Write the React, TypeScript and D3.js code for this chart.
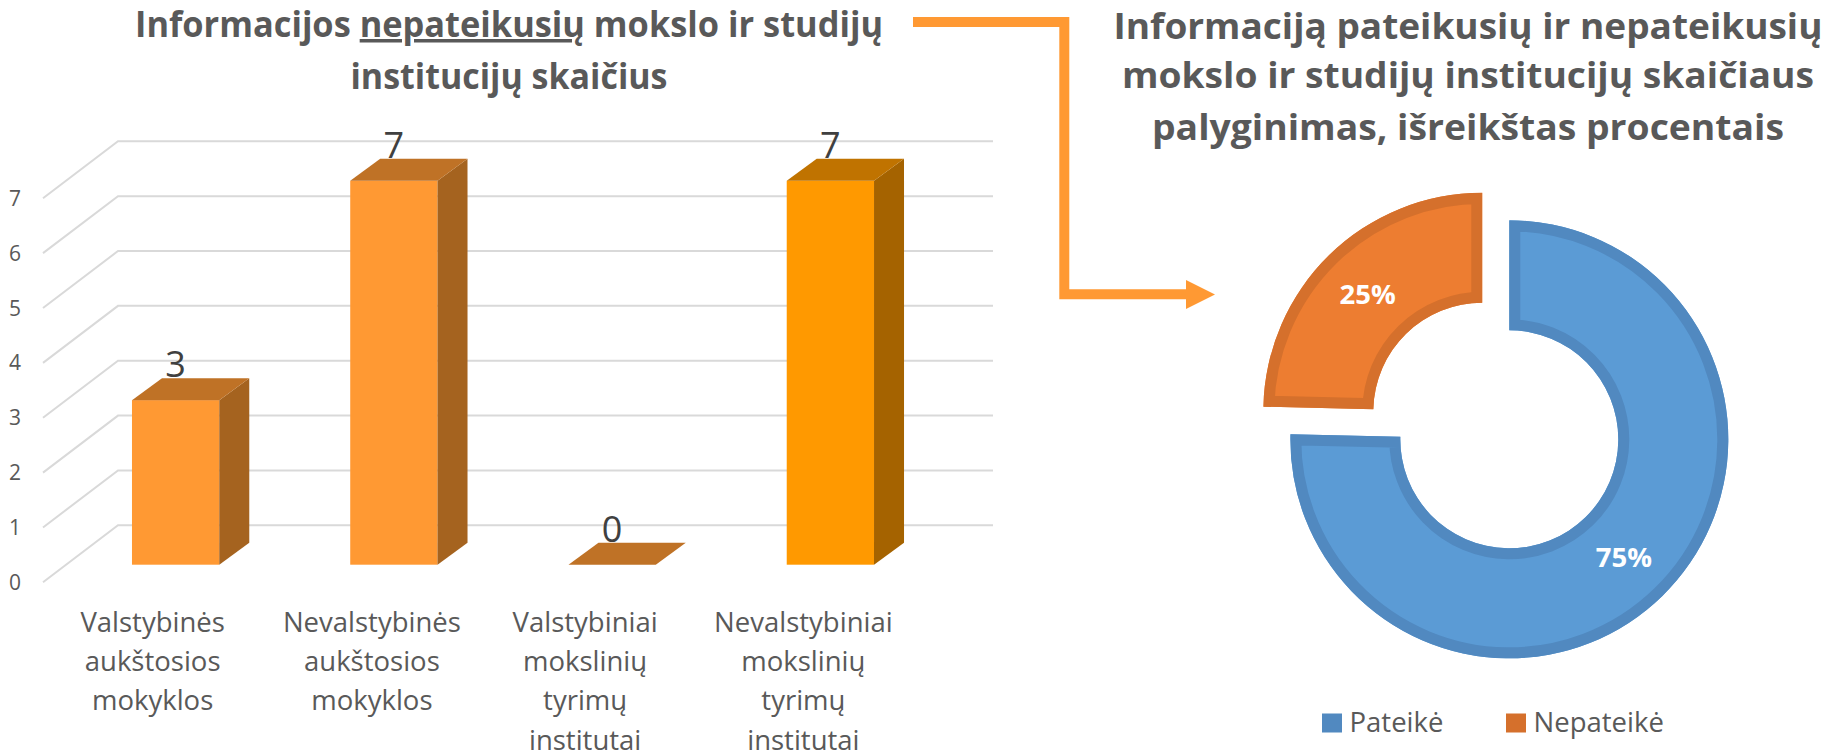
import React from "react";
import * as d3 from "d3";

const categories = [
  ["Valstybinės", "aukštosios", "mokyklos"],
  ["Nevalstybinės", "aukštosios", "mokyklos"],
  ["Valstybiniai", "mokslinių", "tyrimų", "institutai"],
  ["Nevalstybiniai", "mokslinių", "tyrimų", "institutai"],
];
const barValues = [3, 7, 0, 7];
const barFront = ["#FF9933", "#FF9933", "#FF9933", "#FF9900"];
const barSide = ["#A5631F", "#A5631F", "#A5631F", "#A56300"];
const barTop = ["#BF7226", "#BF7226", "#BF7226", "#C07300"];
const yTicks = [0, 1, 2, 3, 4, 5, 6, 7];
const donutNames = ["Pateikė", "Nepateikė"];
const donutValues = [52, 17];
const donutFill = ["#5B9BD5", "#ED7D31"];
const donutStroke = ["#5189C0", "#D5702C"];
const legendX = [1322, 1506];
const leftTitle2 = "institucijų skaičius";
const rightTitle = [
  "Informaciją pateikusių ir nepateikusių",
  "mokslo ir studijų institucijų skaičiaus",
  "palyginimas, išreikštas procentais",
];
const rightTitleWidth = [709, 692, 632];
const rightTitleBase = [39, 88, 140];
const catOffset = [-23, -22, -27, -27];

const FONT = "'Open Sans', sans-serif";
const GREY = "#595959";

export default function App() {
  const x = d3.scaleBand<number>().domain([0, 1, 2, 3]).range([66.5, 939.5]).paddingInner(0.6).paddingOuter(0.3);
  const y = d3.scaleLinear().domain([0, 7]).range([564.7, 180.7]);
  const bw = x.bandwidth();
  const dx = 30, dy = 22;
  const wallDy = -39.4;
  const tipDy = 17.6;

  const pie = d3.pie<number>().sort(null)(donutValues);
  const arc = d3.arc<d3.PieArcDatum<number>>().innerRadius(109).outerRadius(219);
  const centers = [[1509.3, 439.3], [1482.3, 411.7]];

  return (
    <svg width={1841} height={751} style={{ position: "absolute", left: 0, top: 0, display: "block", background: "#fff" }} fontFamily={FONT}>
      <text x={509} y={37} textAnchor="middle" fontSize={35} fontWeight={700} fill={GREY} textLength={748} lengthAdjust="spacingAndGlyphs">
        Informacijos <tspan textDecoration="underline">nepateikusių</tspan> mokslo ir studijų
      </text>
      <text x={509} y={89} textAnchor="middle" fontSize={35} fontWeight={700} fill={GREY} textLength={317} lengthAdjust="spacingAndGlyphs">
        {leftTitle2}
      </text>
      {rightTitle.map((t, i) => (
        <text key={i} x={1468} y={rightTitleBase[i]} textAnchor="middle" fontSize={36} fontWeight={700} fill={GREY} textLength={rightTitleWidth[i]} lengthAdjust="spacingAndGlyphs">{t}</text>
      ))}

      {yTicks.map((v) => (
        <g key={v}>
          <path d={`M43,${y(v) + tipDy}L118,${y(v) + wallDy}H993`} fill="none" stroke="#D9D9D9" strokeWidth={2} />
          <text x={15} y={y(v) + tipDy + 7.5} textAnchor="middle" fontSize={21} fill={GREY}>{v}</text>
        </g>
      ))}

      {barValues.map((v, i) => {
        const x0 = x(i)!;
        const yT = y(v), yB = y(0);
        return (
          <g key={i}>
            <text x={x0 + bw / 2} y={yT - dy - 1} textAnchor="middle" fontSize={36} fill="#404040">{v}</text>
            {v > 0 && <rect x={x0} y={yT} width={bw} height={yB - yT} fill={barFront[i]} />}
            {v > 0 && <path d={`M${x0 + bw},${yT}L${x0 + bw + dx},${yT - dy}V${yB - dy}L${x0 + bw},${yB}Z`} fill={barSide[i]} />}
            <path d={`M${x0},${yT}L${x0 + dx},${yT - dy}H${x0 + bw + dx}L${x0 + bw},${yT}Z`} fill={barTop[i]} />
            {categories[i].map((line, j) => (
              <text key={j} x={x0 + bw / 2 + catOffset[i]} y={632 + j * 39.2} textAnchor="middle" fontSize={27.5} fill={GREY}>{line}</text>
            ))}
          </g>
        );
      })}

      <path d="M913,22H1064.3V294.3H1190" fill="none" stroke="#FF9933" strokeWidth={10} />
      <path d="M1186,280L1215,294.5L1186,309Z" fill="#FF9933" />

      <defs>
        {pie.map((p, i) => (
          <clipPath id={`slice${i}`} key={i}><path d={arc(p)!} /></clipPath>
        ))}
      </defs>
      {pie.map((p, i) => {
        const [cx, cy] = centers[i];
        const [ax, ay] = arc.centroid(p);
        return (
          <g key={i}>
            <g transform={`translate(${cx},${cy})`}>
              <path d={arc(p)!} fill={donutFill[i]} />
              <path d={arc(p)!} fill="none" stroke={donutStroke[i]} strokeWidth={22} clipPath={`url(#slice${i})`} />
            </g>
            <text x={cx + ax} y={cy + ay + 10} textAnchor="middle" fontSize={27.5} fontWeight={700} fill="#fff">
              {d3.format(".0%")(p.value / d3.sum(donutValues))}
            </text>
          </g>
        );
      })}

      {donutNames.map((n, i) => (
        <g key={n}>
          <rect x={legendX[i]} y={713.5} width={20} height={19} fill={donutStroke[i]} />
          <text x={legendX[i] + 27.5} y={732} fontSize={27.5} fill={GREY}>{n}</text>
        </g>
      ))}
    </svg>
  );
}
